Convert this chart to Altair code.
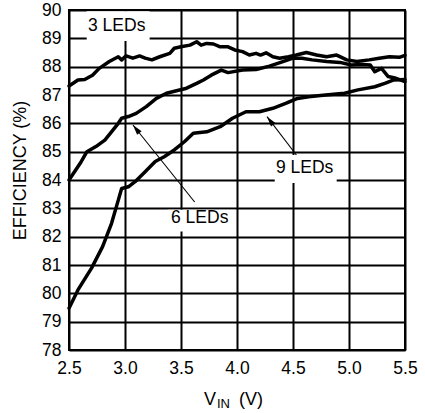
import math
import altair as alt
import pandas as pd

# ---------------- data ----------------
v3 = [2.50, 2.58, 2.64, 2.71, 2.77, 2.86, 2.94, 2.97, 3.01, 3.07, 3.13, 3.18, 3.24, 3.31,
      3.40, 3.44, 3.50, 3.58, 3.64, 3.68, 3.73, 3.79, 3.85, 3.92, 3.98, 4.05, 4.11, 4.17,
      4.21, 4.26, 4.32, 4.38, 4.46, 4.53, 4.62, 4.71, 4.80, 4.89, 4.98, 5.07, 5.18, 5.27,
      5.36, 5.45, 5.50]
e3 = [87.32, 87.53, 87.55, 87.70, 87.94, 88.18, 88.35, 88.24, 88.38, 88.30, 88.38, 88.30,
      88.24, 88.35, 88.47, 88.65, 88.70, 88.76, 88.88, 88.76, 88.82, 88.80, 88.70, 88.70,
      88.59, 88.53, 88.41, 88.47, 88.41, 88.49, 88.35, 88.30, 88.35, 88.41, 88.50, 88.41,
      88.35, 88.41, 88.24, 88.18, 88.24, 88.30, 88.35, 88.33, 88.40]

v6 = [2.50, 2.60, 2.66, 2.74, 2.82, 2.89, 2.94, 2.97, 3.03, 3.10, 3.19, 3.28, 3.37, 3.46,
      3.55, 3.64, 3.70, 3.77, 3.86, 3.92, 4.05, 4.17, 4.29, 4.41, 4.50, 4.58, 4.67, 4.80,
      4.92, 5.02, 5.12, 5.19, 5.23, 5.29, 5.35, 5.42, 5.50]
e6 = [84.00, 84.59, 85.00, 85.18, 85.41, 85.75, 86.00, 86.18, 86.24, 86.35, 86.59, 86.88,
      87.06, 87.15, 87.24, 87.41, 87.53, 87.70, 87.88, 87.79, 87.88, 87.90, 88.02, 88.18,
      88.30, 88.30, 88.24, 88.18, 88.15, 88.06, 88.08, 88.06, 87.82, 87.94, 87.65, 87.59,
      87.47]

v9 = [2.50, 2.58, 2.70, 2.80, 2.88, 2.94, 2.97, 3.03, 3.09, 3.18, 3.27, 3.35, 3.44, 3.53,
      3.61, 3.73, 3.85, 3.96, 4.08, 4.20, 4.32, 4.44, 4.54, 4.64, 4.79, 4.96, 5.08, 5.23,
      5.32, 5.40, 5.50]
e9 = [79.47, 80.12, 80.88, 81.65, 82.47, 83.29, 83.70, 83.76, 83.94, 84.29, 84.65, 84.82,
      85.06, 85.35, 85.65, 85.70, 85.88, 86.18, 86.41, 86.41, 86.53, 86.71, 86.88, 86.94,
      87.00, 87.06, 87.18, 87.29, 87.41, 87.53, 87.55]

series_names = ["3 LEDs", "6 LEDs", "9 LEDs"]

x_ticks = [2.5, 3.0, 3.5, 4.0, 4.5, 5.0, 5.5]
y_ticks = list(range(78, 91))

# annotation anchors (data coordinates)
label_text = ["3 LEDs", "6 LEDs", "9 LEDs"]
label_x = [2.926, 3.667, 4.604]
label_y = [89.44, 82.66, 84.42]
box_x1 = [2.658, 3.381, 4.337]
box_x2 = [3.220, 3.988, 4.890]
box_y1 = [89.96, 82.95, 84.882]
box_y2 = [88.906, 82.18, 83.894]
arrow_tail_x = [3.622, 4.530]
arrow_tail_y = [83.223, 84.882]
arrow_head_x = [3.071, 4.268]
arrow_head_y = [85.941, 86.234]

# ---------------- layout ----------------
W, H = 336, 340
XMIN, XMAX = 2.5, 5.5
YMIN, YMAX = 78, 90
FONT = "Liberation Sans"

rows = []
for name, vs, es in zip(series_names, [v3, v6, v9], [e3, e6, e9]):
    for a, b in zip(vs, es):
        rows.append({"series": name, "v": a, "e": b})
curves = pd.DataFrame(rows)

labels = pd.DataFrame({"t": label_text, "tx": label_x, "ty": label_y,
                       "bx1": box_x1, "bx2": box_x2, "by1": box_y1, "by2": box_y2})

pxv = W / (XMAX - XMIN)
pxe = H / (YMAX - YMIN)
angles = []
for tx, ty, hx, hy in zip(arrow_tail_x, arrow_tail_y, arrow_head_x, arrow_head_y):
    dx = (hx - tx) * pxv
    dy = -(hy - ty) * pxe
    angles.append(math.degrees(math.atan2(dx, -dy)) % 360)
arrows = pd.DataFrame({"x1": arrow_tail_x, "y1": arrow_tail_y,
                       "x2": arrow_head_x, "y2": arrow_head_y, "ang": angles})

xs = alt.Scale(domain=[XMIN, XMAX], nice=False, zero=False)
ys = alt.Scale(domain=[YMIN, YMAX], nice=False, zero=False)

x_axis = alt.Axis(values=x_ticks, format=".1f", title=None, grid=True,
                  gridColor="black", gridWidth=2, gridOpacity=1,
                  ticks=False, domain=False, labelFont=FONT, labelFontSize=17.5,
                  labelColor="black", labelPadding=9, labelFlush=False)
y_axis = alt.Axis(values=y_ticks, format="d", title="EFFICIENCY (%)", grid=True,
                  gridColor="black", gridWidth=2, gridOpacity=1,
                  ticks=False, domain=False, labelFont=FONT, labelFontSize=17.5,
                  labelColor="black", labelPadding=8, labelFlush=False,
                  titleFont=FONT, titleFontSize=18, titleFontWeight="normal",
                  titleColor="black", titleX=-40, titleY=H / 2 - 10)

boxes = alt.Chart(labels).mark_rect(color="white", opacity=1).encode(
    x=alt.X("bx1:Q", scale=xs, axis=x_axis), x2="bx2:Q",
    y=alt.Y("by1:Q", scale=ys, axis=y_axis), y2="by2:Q")

lines = alt.Chart(curves).mark_line(color="black", strokeWidth=3.5,
                                    strokeJoin="round", strokeCap="round").encode(
    x=alt.X("v:Q", scale=xs, axis=x_axis),
    y=alt.Y("e:Q", scale=ys, axis=y_axis),
    detail="series:N")

arrow_lines = alt.Chart(arrows).mark_rule(color="black", strokeWidth=1.1).encode(
    x=alt.X("x1:Q", scale=xs, axis=x_axis), y=alt.Y("y1:Q", scale=ys, axis=y_axis),
    x2="x2:Q", y2="y2:Q")

arrow_heads = alt.Chart(arrows).mark_point(
    shape="M0,0 L-0.28,1 L0.28,1 Z", filled=True, color="black", opacity=1,
    size=420, strokeWidth=0).encode(
    x=alt.X("x2:Q", scale=xs, axis=x_axis), y=alt.Y("y2:Q", scale=ys, axis=y_axis),
    angle=alt.Angle("ang:Q", scale=None))

label_marks = alt.Chart(labels).mark_text(font=FONT, fontSize=17.5, color="black",
                                          baseline="middle", align="center").encode(
    x=alt.X("tx:Q", scale=xs, axis=x_axis), y=alt.Y("ty:Q", scale=ys, axis=y_axis),
    text="t:N")

one = pd.DataFrame({"a": [0]})
xt_v = alt.Chart(one).mark_text(text="V", font=FONT, fontSize=18, color="black",
                                align="left", baseline="alphabetic").encode(
    x=alt.value(135), y=alt.value(395))
xt_in = alt.Chart(one).mark_text(text="IN", font=FONT, fontSize=13, color="black",
                                 align="left", baseline="alphabetic").encode(
    x=alt.value(148), y=alt.value(398))
xt_unit = alt.Chart(one).mark_text(text="(V)", font=FONT, fontSize=18, color="black",
                                   align="left", baseline="alphabetic").encode(
    x=alt.value(170), y=alt.value(395))

chart = alt.layer(boxes, lines, arrow_lines, arrow_heads, label_marks,
                  xt_v, xt_in, xt_unit).properties(
    width=W, height=H,
    autosize=alt.AutoSizeParams(type="none"),
    padding={"left": 69, "top": 10, "right": 20, "bottom": 63},
    background="white",
).configure_view(stroke="black", strokeWidth=2)

chart.save("out.html", embed_options={"renderer": "svg", "actions": False})
